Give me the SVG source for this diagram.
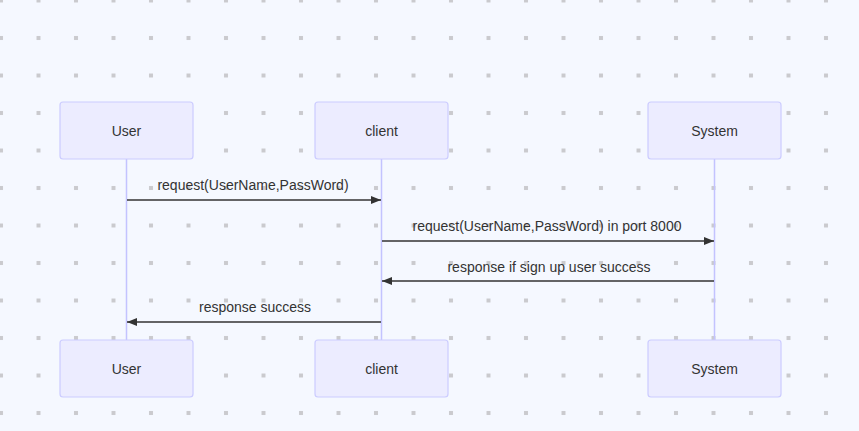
<svg xmlns="http://www.w3.org/2000/svg" width="859" height="431" viewBox="0 0 859 431">
<defs>
<pattern id="dots" x="1" y="0.5" width="37.5" height="37.5" patternUnits="userSpaceOnUse">
<rect x="0" y="0" width="2" height="2" fill="#cacace"/>
<rect x="35.5" y="0" width="2" height="2" fill="#cacace"/>
<rect x="0" y="35.5" width="2" height="2" fill="#cacace"/>
<rect x="35.5" y="35.5" width="2" height="2" fill="#cacace"/>
</pattern>
<marker id="arr" viewBox="0 0 10 8" refX="10" refY="4" markerWidth="10" markerHeight="8" markerUnits="userSpaceOnUse" orient="auto">
<path d="M0,0 L10,4 L0,8 z" fill="#333333"/>
</marker>
<style>
.actor{fill:#ECECFF;stroke:#CCCCFF;stroke-width:1.2}
.t{font-family:"Liberation Sans",Arial,sans-serif;font-size:14px;fill:#333333;text-anchor:middle}
.life{stroke:#C3C3FF;stroke-width:1.5}
.msg{stroke:#333333;stroke-width:1.5;fill:none;marker-end:url(#arr)}
</style>
</defs>
<rect width="859" height="431" fill="#F5F8FF"/>
<rect width="859" height="431" fill="url(#dots)"/>
<g id="lifelines">
<line class="life" x1="126.5" y1="159" x2="126.5" y2="340"/>
<line class="life" x1="381.5" y1="159" x2="381.5" y2="340"/>
<line class="life" x1="714.5" y1="159" x2="714.5" y2="340"/>
</g>
<g id="user-top"><rect class="actor" x="60" y="102" width="133" height="57" rx="3"/><text class="t" x="126.5" y="136">User</text></g>
<g id="client-top"><rect class="actor" x="315" y="102" width="133" height="57" rx="3"/><text class="t" x="381.5" y="136">client</text></g>
<g id="system-top"><rect class="actor" x="648" y="102" width="133" height="57" rx="3"/><text class="t" x="714.5" y="136">System</text></g>
<g id="user-bottom"><rect class="actor" x="60" y="340" width="133" height="57" rx="3"/><text class="t" x="126.5" y="374">User</text></g>
<g id="client-bottom"><rect class="actor" x="315" y="340" width="133" height="57" rx="3"/><text class="t" x="381.5" y="374">client</text></g>
<g id="system-bottom"><rect class="actor" x="648" y="340" width="133" height="57" rx="3"/><text class="t" x="714.5" y="374">System</text></g>
<g id="connectors">
<line class="msg" x1="127" y1="200" x2="381" y2="200"/>
<text class="t" x="253" y="190">request(UserName,PassWord)</text>
<line class="msg" x1="382" y1="241" x2="714" y2="241"/>
<text class="t" x="547" y="231">request(UserName,PassWord) in port 8000</text>
<line class="msg" x1="714" y1="281" x2="382" y2="281"/>
<text class="t" x="549" y="272">response if sign up user success</text>
<line class="msg" x1="381" y1="322" x2="127" y2="322"/>
<text class="t" x="255" y="312">response success</text>
</g>
</svg>
